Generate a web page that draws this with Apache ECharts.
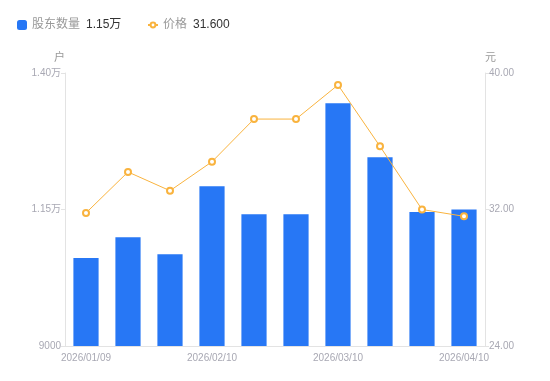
<!DOCTYPE html>
<html><head><meta charset="utf-8">
<script src="https://cdn.jsdelivr.net/npm/echarts@6/dist/echarts.min.js"></script>
<style>html,body{margin:0;padding:0;background:#fff}#c{width:550px;height:381px}</style>
</head><body><div id="c"></div>
<script>
var categories = ['2026/01/09','2026/01/20','2026/01/30','2026/02/10','2026/02/20','2026/02/28','2026/03/10','2026/03/20','2026/03/31','2026/04/10'];
var holders = [10610, 10990, 10680, 11925, 11412, 11412, 13445, 12456, 11454, 11500];
var prices = [31.8, 34.2, 33.1, 34.8, 37.3, 37.3, 39.3, 35.7, 32.0, 31.6];
var leftTicks = {min: 9000, max: 14000, interval: 2500};
var rightTicks = {min: 24, max: 40, interval: 8};

function fmtWan(v){ return v >= 10000 ? (v/10000).toFixed(2) + '万' : String(v); }
var lastHolder = holders[holders.length-1];
var lastPrice = prices[prices.length-1];
var font = '"Liberation Sans", "Noto Sans CJK SC", sans-serif';
var legendText = {fontSize: 12, color: '#999', fontFamily: font, rich: {v: {color: '#333', fontSize: 12, fontFamily: font, padding: [0,0,0,6]}}};
function legendFmt(n){ return n === '股东数量' ? n + '{v|' + fmtWan(lastHolder) + '}' : n + '{v|' + lastPrice.toFixed(3) + '}'; }
var chart = echarts.init(document.getElementById('c'));
chart.setOption({
  animation: false,
  textStyle: {fontFamily: font},
  legend: [{
    left: 12, top: 14, itemWidth: 10, itemHeight: 10,
    textStyle: legendText, formatter: legendFmt,
    data: [{name: '股东数量', icon: 'roundRect'}]
  }, {
    left: 142, top: 14, itemWidth: 10, itemHeight: 6,
    textStyle: legendText, formatter: legendFmt,
    data: [{name: '价格'}]
  }],
  grid: {left: 65, right: 65, top: 73, bottom: 35},
  xAxis: {
    type: 'category', data: categories,
    axisLine: {lineStyle: {color: '#e3e3e3'}},
    axisTick: {show: false},
    axisLabel: {interval: 2, color: '#a8a8b3', fontSize: 10, margin: 7, showMaxLabel: true}
  },
  yAxis: [{
    type: 'value', name: '户', min: leftTicks.min, max: leftTicks.max, interval: leftTicks.interval,
    nameTextStyle: {color: '#999', fontSize: 11, align: 'right'},
    nameGap: 10,
    axisLine: {show: true, lineStyle: {color: '#e3e3e3'}},
    axisTick: {show: true, length: 4, lineStyle: {color: '#e3e3e3'}},
    splitLine: {show: false},
    axisLabel: {color: '#a8a8b3', fontSize: 10, margin: 4, formatter: fmtWan}
  }, {
    type: 'value', name: '元', min: rightTicks.min, max: rightTicks.max, interval: rightTicks.interval,
    nameTextStyle: {color: '#999', fontSize: 11, align: 'left'},
    nameGap: 10,
    axisLine: {show: true, lineStyle: {color: '#e3e3e3'}},
    axisTick: {show: true, length: 4, lineStyle: {color: '#e3e3e3'}},
    splitLine: {show: false},
    axisLabel: {color: '#a8a8b3', fontSize: 10, margin: 4, formatter: function(v){ return v.toFixed(2); }}
  }],
  series: [{
    name: '股东数量', type: 'bar', data: holders, yAxisIndex: 0, barWidth: '60%',
    itemStyle: {color: '#2777f5'}
  }, {
    name: '价格', type: 'line', data: prices, yAxisIndex: 1,
    symbol: 'emptyCircle', symbolSize: 6,
    lineStyle: {width: 1, color: '#f9b33e'},
    itemStyle: {color: '#f9b33e', borderWidth: 2}
  }]
});
</script></body></html>
